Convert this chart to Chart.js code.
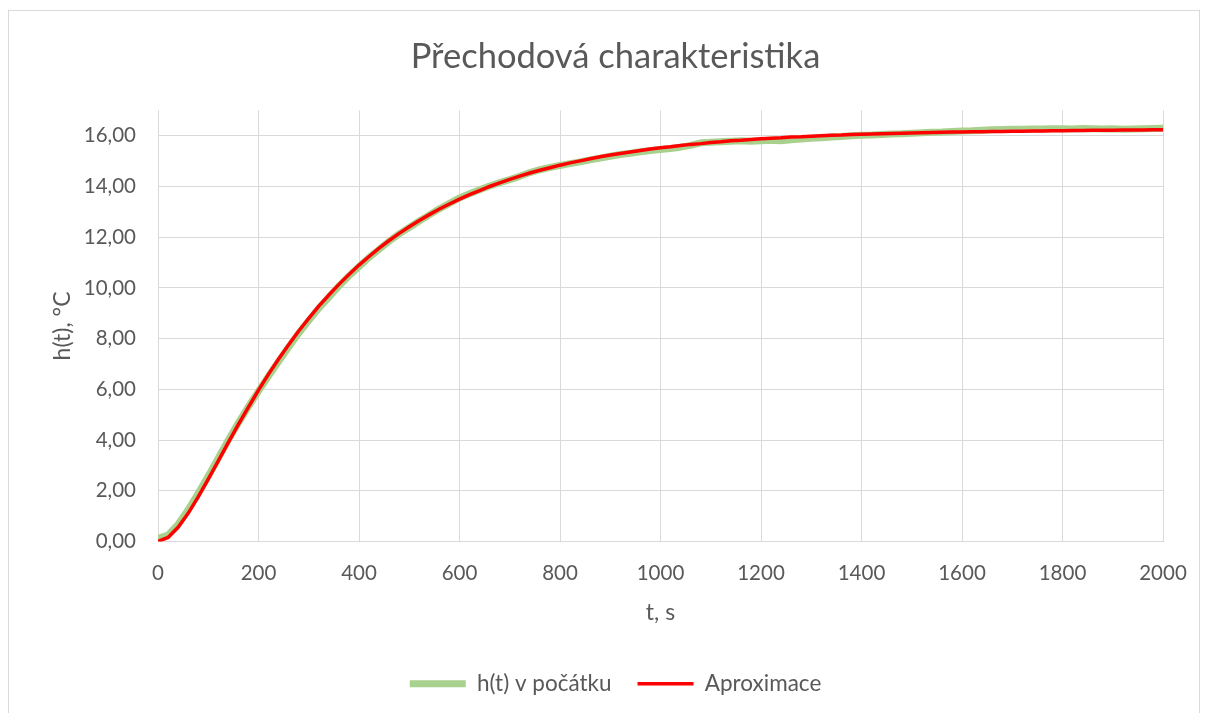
<!DOCTYPE html>
<html>
<head>
<meta charset="utf-8">
<script src="https://cdn.jsdelivr.net/npm/chart.js@4.4.1/dist/chart.umd.min.js"></script>
<style>
  html, body { margin: 0; padding: 0; background: #ffffff; }
  #wrap { position: relative; width: 1208px; height: 713px; overflow: hidden; }
  #c { position: absolute; left: 0; top: 0; }
  #frame { position: absolute; left: 8px; top: 10px; width: 1192px; height: 730px; border: 1px solid #d9d9d9; box-sizing: border-box; pointer-events: none; }
</style>
</head>
<body>
<div id="wrap">
  <canvas id="c" width="1208" height="713"></canvas>
  <div id="frame"></div>
</div>
<script>
// ---- data ----
const timeSec = [
  0, 20, 40, 60, 80, 100, 120, 140, 160, 180,
  200, 220, 240, 260, 280, 300, 320, 340, 360, 380,
  400, 420, 440, 460, 480, 500, 520, 540, 560, 580,
  600, 620, 640, 660, 680, 700, 720, 740, 760, 780,
  800, 820, 840, 860, 880, 900, 920, 940, 960, 980,
  1000, 1020, 1040, 1060, 1080, 1100, 1120, 1140, 1160, 1180,
  1200, 1220, 1240, 1260, 1280, 1300, 1320, 1340, 1360, 1380,
  1400, 1420, 1440, 1460, 1480, 1500, 1520, 1540, 1560, 1580,
  1600, 1620, 1640, 1660, 1680, 1700, 1720, 1740, 1760, 1780,
  1800, 1820, 1840, 1860, 1880, 1900, 1920, 1940, 1960, 1980, 2000
];
const measured = [
  0.12, 0.25, 0.68, 1.25, 1.90, 2.58, 3.30, 4.00, 4.68, 5.32,
  5.93, 6.52, 7.10, 7.66, 8.21, 8.71, 9.20, 9.63, 10.07, 10.47,
  10.84, 11.20, 11.52, 11.84, 12.13, 12.38, 12.64, 12.88, 13.12, 13.33,
  13.55, 13.71, 13.87, 14.02, 14.15, 14.27, 14.40, 14.55, 14.66, 14.75,
  14.83, 14.90, 14.97, 15.05, 15.12, 15.19, 15.26, 15.31, 15.37, 15.42,
  15.46, 15.50, 15.55, 15.62, 15.72, 15.74, 15.76, 15.78, 15.80, 15.78,
  15.80, 15.82, 15.80, 15.84, 15.87, 15.90, 15.92, 15.95, 15.97, 16.00,
  16.02, 16.03, 16.05, 16.07, 16.08, 16.10, 16.12, 16.14, 16.15, 16.17,
  16.19, 16.20, 16.22, 16.24, 16.25, 16.26, 16.26, 16.27, 16.27, 16.28,
  16.28, 16.27, 16.29, 16.28, 16.27, 16.28, 16.26, 16.27, 16.28, 16.29, 16.30
];
const approx = [
  0.00, 0.16, 0.56, 1.11, 1.76, 2.46, 3.18, 3.91, 4.62, 5.30,
  5.97, 6.60, 7.20, 7.76, 8.30, 8.80, 9.28, 9.72, 10.14, 10.53,
  10.90, 11.24, 11.57, 11.87, 12.15, 12.41, 12.66, 12.89, 13.11, 13.31,
  13.50, 13.68, 13.84, 14.00, 14.14, 14.28, 14.41, 14.53, 14.64, 14.74,
  14.84, 14.93, 15.01, 15.09, 15.17, 15.24, 15.30, 15.36, 15.42, 15.48,
  15.53, 15.57, 15.62, 15.66, 15.69, 15.73, 15.76, 15.80, 15.82, 15.85,
  15.88, 15.90, 15.92, 15.95, 15.96, 15.98, 16.00, 16.02, 16.03, 16.05,
  16.06, 16.07, 16.08, 16.09, 16.10, 16.11, 16.12, 16.13, 16.14, 16.15,
  16.15, 16.16, 16.16, 16.17, 16.17, 16.18, 16.18, 16.19, 16.19, 16.20,
  16.20, 16.21, 16.21, 16.22, 16.22, 16.22, 16.23, 16.23, 16.23, 16.24, 16.24
];
const xTickValues = [0, 200, 400, 600, 800, 1000, 1200, 1400, 1600, 1800, 2000];
const yTickValues = [0, 2, 4, 6, 8, 10, 12, 14, 16];
const seriesNames = ['h(t) v počátku', 'Aproximace'];
const chartTitle = 'Přechodová charakteristika';
const xTitle = 't, s';
const yTitle = 'h(t), °C';

// ---- build ----
const toPoints = (ys) => timeSec.map((t, i) => ({ x: t, y: ys[i] }));
const FONT = 'Lato';
const TXT = '#595959';
const GRID = '#d9d9d9';

new Chart(document.getElementById('c'), {
  type: 'line',
  data: {
    datasets: [
      {
        label: seriesNames[1],
        data: toPoints(approx),
        borderColor: '#ff0000',
        backgroundColor: '#ff0000',
        borderWidth: 3.5,
        pointRadius: 0,
        tension: 0,
        fill: false
      },
      {
        label: seriesNames[0],
        data: toPoints(measured),
        borderColor: '#a9d18e',
        backgroundColor: '#a9d18e',
        borderWidth: 7,
        borderCapStyle: 'round',
        borderJoinStyle: 'round',
        pointRadius: 0,
        tension: 0,
        fill: false
      }
    ]
  },
  options: {
    responsive: false,
    animation: false,
    devicePixelRatio: 1,
    layout: { padding: { left: 33, right: 10, top: 10, bottom: 8 } },
    plugins: {
      tooltip: { enabled: false },
      title: {
        display: true,
        text: chartTitle,
        color: TXT,
        font: { family: FONT, size: 34.5, weight: 'normal' },
        padding: { top: 26, bottom: 33 }
      },
      legend: {
        display: true,
        position: 'bottom',
        labels: {
          color: TXT,
          font: { family: FONT, size: 22.5 },
          usePointStyle: true,
          pointStyle: 'line',
          pointStyleWidth: 56,
          padding: 26,
          sort: (a, b) => b.datasetIndex - a.datasetIndex
        }
      }
    },
    scales: {
      x: {
        type: 'linear',
        position: 'bottom',
        min: 0,
        max: 2000,
        afterBuildTicks: (s) => { s.ticks = xTickValues.map(v => ({ value: v })); },
        afterFit: (s) => { s.height = 105; },
        grid: { color: GRID, lineWidth: 1, drawTicks: false },
        border: { display: false },
        ticks: {
          color: TXT,
          font: { family: FONT, size: 20.5 },
          padding: 20,
          maxRotation: 0,
          autoSkip: false,
          callback: (v) => String(v)
        },
        title: {
          display: true,
          text: xTitle,
          color: TXT,
          font: { family: FONT, size: 23 },
          padding: { top: 0, bottom: 20 }
        }
      },
      y: {
        type: 'linear',
        position: 'left',
        min: 0,
        max: 17,
        afterBuildTicks: (s) => { s.ticks = yTickValues.map(v => ({ value: v })); },
        afterFit: (s) => { s.width = 125; },
        grid: { color: GRID, lineWidth: 1, drawTicks: false },
        border: { display: false },
        ticks: {
          color: TXT,
          font: { family: FONT, size: 20.5 },
          padding: 22,
          autoSkip: false,
          callback: (v) => Number(v).toFixed(2).replace('.', ',')
        },
        title: {
          display: true,
          text: yTitle,
          color: TXT,
          font: { family: FONT, size: 23 },
          padding: { top: 16, bottom: 0 }
        }
      },
      yR: {
        type: 'linear',
        position: 'right',
        display: true,
        min: 0,
        max: 17,
        afterFit: (s) => { s.width = 35; },
        grid: { display: false, drawTicks: false },
        border: { display: false },
        ticks: { display: false }
      }
    }
  }
});
</script>
</body>
</html>
